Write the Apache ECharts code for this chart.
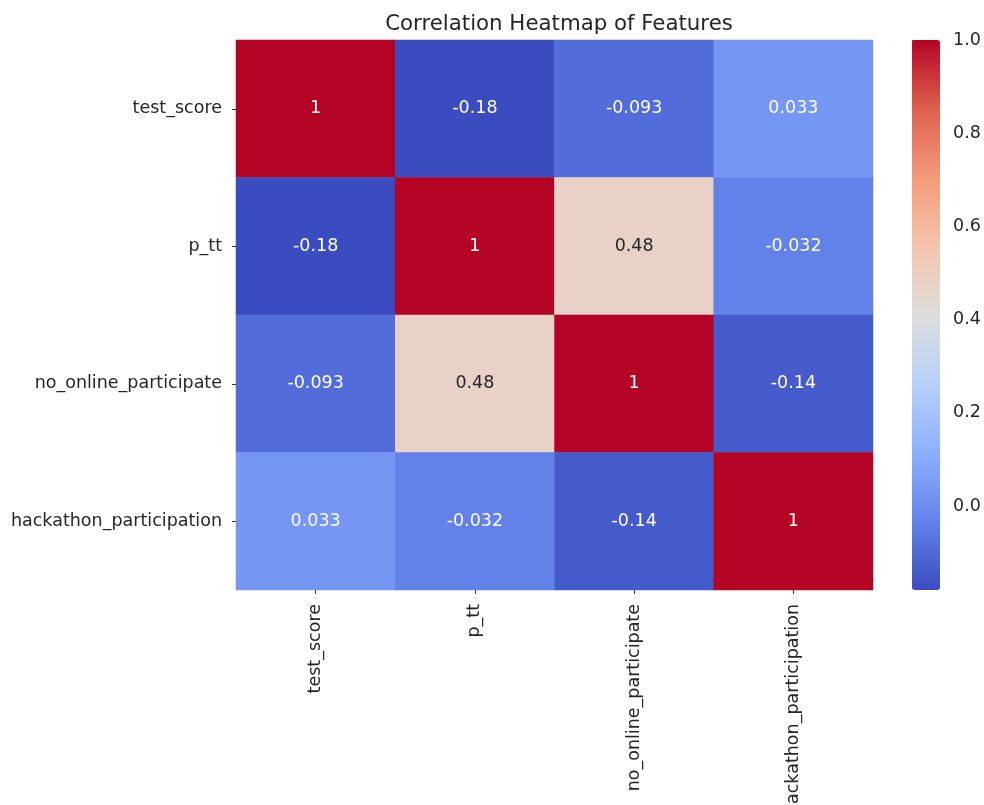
<!DOCTYPE html>
<html>
<head>
<meta charset="utf-8">
<script src="https://cdn.jsdelivr.net/npm/echarts@6/dist/echarts.min.js"></script>
<style>
  html, body { margin: 0; padding: 0; background: #ffffff; }
  #chart { width: 984px; height: 805px; }
</style>
</head>
<body>
<div id="chart"></div>
<script>
// Feature names (rows top-to-bottom, columns left-to-right)
const features = ['test_score', 'p_tt', 'no_online_participate', 'hackathon_participation'];

// Pairwise correlation coefficients, one row per feature
const rowTestScore = [1, -0.18, -0.093, 0.033];
const rowPTT = [-0.18, 1, 0.48, -0.032];
const rowNoOnline = [-0.093, 0.48, 1, -0.14];
const rowHackathon = [0.033, -0.032, -0.14, 1];

// Colour bar tick labels
const colorbarTicks = [0, 0.2, 0.4, 0.6, 0.8, 1.0];

const vMin = -0.18;
const vMax = 1.0;

// Diverging blue-grey-red palette
const coolwarm = ['#3b4cc0', '#6282ea', '#8db0fe', '#b8d0f9', '#dddddd',
                  '#f5c4ad', '#f49a7b', '#de604d', '#b40426'];

const matrix = [rowTestScore, rowPTT, rowNoOnline, rowHackathon];
const font = "'DejaVu Sans', sans-serif";
const textColor = '#262626';
const labelSize = 17.5;

const cells = [];
matrix.forEach((row, r) => {
  row.forEach((v, c) => {
    const t = (v - vMin) / (vMax - vMin);
    const dark = t > 0.3 && t < 0.78;
    cells.push({
      value: [c, r, v],
      label: { color: dark ? textColor : '#ffffff' }
    });
  });
});

const chart = echarts.init(document.getElementById('chart'));
chart.setOption({
  backgroundColor: '#ffffff',
  animation: false,
  title: {
    text: 'Correlation Heatmap of Features',
    left: 554,
    top: 9,
    textAlign: 'center',
    textStyle: { fontFamily: font, fontSize: 21.3, fontWeight: 'normal', color: textColor }
  },
  grid: [
    { left: 236, top: 40, width: 637, height: 550, outerBoundsMode: 'none', containLabel: false },
    { left: 912, top: 40, width: 28, height: 550, outerBoundsMode: 'none', containLabel: false }
  ],
  xAxis: [
    {
      type: 'category',
      gridIndex: 0,
      data: features,
      position: 'bottom',
      axisLine: { show: false },
      axisTick: { show: true, alignWithLabel: true, length: 4, lineStyle: { color: '#333' } },
      axisLabel: { rotate: 90, margin: 14, fontFamily: font, fontSize: labelSize, color: textColor },
      splitLine: { show: false }
    },
    {
      type: 'value',
      gridIndex: 1,
      show: false
    }
  ],
  yAxis: [
    {
      type: 'category',
      gridIndex: 0,
      data: features,
      inverse: true,
      axisLine: { show: false },
      axisTick: { show: true, alignWithLabel: true, length: 4, lineStyle: { color: '#333' } },
      axisLabel: { margin: 14, fontFamily: font, fontSize: labelSize, color: textColor },
      splitLine: { show: false }
    },
    {
      type: 'value',
      gridIndex: 1,
      min: vMin,
      max: vMax,
      position: 'right',
      axisLine: { show: false },
      axisTick: { show: true, length: 5, customValues: colorbarTicks, lineStyle: { color: '#333' } },
      axisLabel: {
        margin: 13, fontFamily: font, fontSize: labelSize, color: textColor,
        customValues: colorbarTicks,
        formatter: v => v.toFixed(1)
      },
      splitLine: { show: false }
    }
  ],
  visualMap: {
    type: 'continuous',
    min: vMin,
    max: vMax,
    seriesIndex: 0,
    calculable: false,
    realtime: false,
    left: 912,
    top: 40,
    itemWidth: 28,
    itemHeight: 550,
    padding: 0,
    text: null,
    showLabel: false,
    inRange: { color: coolwarm }
  },
  series: [
    {
      type: 'heatmap',
      xAxisIndex: 0,
      yAxisIndex: 0,
      data: cells,
      label: {
        show: true,
        fontFamily: font,
        fontSize: labelSize,
        formatter: p => String(p.value[2])
      },
      itemStyle: { borderWidth: 0 },
      emphasis: { disabled: true }
    }
  ]
});
</script>
</body>
</html>
